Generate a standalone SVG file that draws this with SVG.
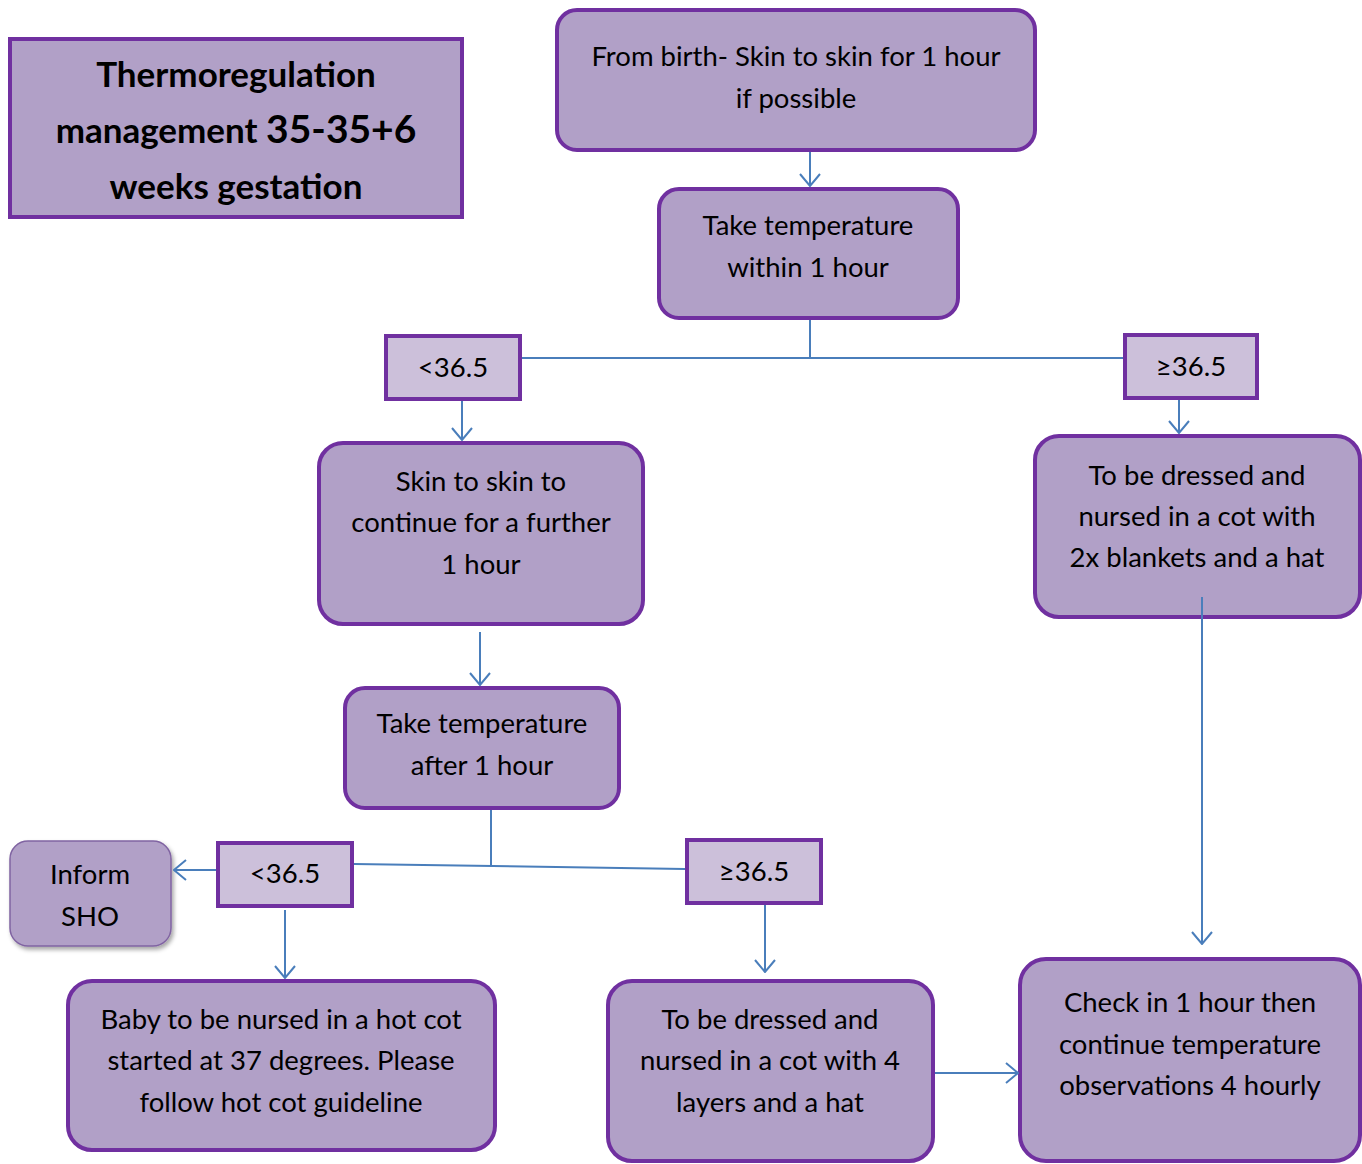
<svg xmlns="http://www.w3.org/2000/svg" width="1362" height="1164" viewBox="0 0 1362 1164">
<defs>
<style>
.box{fill:#B1A0C7;stroke:#7030A0;stroke-width:4}
.lbl{fill:#CCC0DA;stroke:#7030A0;stroke-width:4}
.t{font-family:Lato,"Liberation Sans",sans-serif;font-size:27.5px;fill:#000;text-anchor:middle}
.title{font-family:Lato,"Liberation Sans",sans-serif;font-size:35px;font-weight:bold;fill:#000;text-anchor:middle}
.c{fill:none;stroke:#4A7EBB;stroke-width:2}
</style>
<marker id="ah" markerWidth="14" markerHeight="22" refX="13" refY="11" orient="auto" markerUnits="userSpaceOnUse">
<path d="M1,1 L13,11 L1,21" fill="none" stroke="#4A7EBB" stroke-width="2"/>
</marker>
<filter id="sh" x="-10%" y="-10%" width="130%" height="130%">
<feDropShadow dx="2" dy="3" stdDeviation="2" flood-color="#000" flood-opacity="0.35"/>
</filter>
</defs>
<rect width="1362" height="1164" fill="#fff"/>

<g id="title">
<rect x="10" y="39" width="452" height="178" class="box"/>
<text class="title" x="236" y="87">Thermoregulation</text>
<text class="title" x="236" y="143">management <tspan font-size="39">35-35+6</tspan></text>
<text class="title" x="236" y="199">weeks gestation</text>
</g>

<g id="n1">
<rect x="557" y="10" width="478" height="140" rx="20" class="box"/>
<text class="t" x="796" y="66">From birth- Skin to skin for 1 hour</text>
<text class="t" x="796" y="108">if possible</text>
</g>

<g id="n2">
<rect x="659" y="189" width="299" height="129" rx="20" class="box"/>
<text class="t" x="808" y="235">Take temperature</text>
<text class="t" x="808" y="277">within 1 hour</text>
</g>

<g id="l1">
<rect x="386" y="336" width="134" height="63" class="lbl"/>
<text class="t" x="453" y="377">&lt;36.5</text>
</g>

<g id="l2">
<rect x="1125" y="335" width="132" height="63" class="lbl"/>
<text class="t" x="1191" y="376">≥36.5</text>
</g>

<g id="n3">
<rect x="319" y="443" width="324" height="181" rx="24" class="box"/>
<text class="t" x="481" y="491">Skin to skin to</text>
<text class="t" x="481" y="532">continue for a further</text>
<text class="t" x="481" y="574">1 hour</text>
</g>

<g id="n4">
<rect x="1035" y="436" width="325" height="181" rx="24" class="box"/>
<text class="t" x="1197" y="485">To be dressed and</text>
<text class="t" x="1197" y="526">nursed in a cot with</text>
<text class="t" x="1197" y="567">2x blankets and a hat</text>
</g>

<g id="n5">
<rect x="345" y="688" width="274" height="120" rx="20" class="box"/>
<text class="t" x="482" y="733">Take temperature</text>
<text class="t" x="482" y="775">after 1 hour</text>
</g>

<g id="l3">
<rect x="218" y="843" width="134" height="63" class="lbl"/>
<text class="t" x="285" y="883">&lt;36.5</text>
</g>

<g id="l4">
<rect x="687" y="840" width="134" height="63" class="lbl"/>
<text class="t" x="754" y="881">≥36.5</text>
</g>

<g id="inform">
<rect x="10" y="841" width="161" height="105" rx="18" fill="#B1A0C7" stroke="#8064A2" stroke-width="1.5" filter="url(#sh)"/>
<text class="t" x="90" y="884">Inform</text>
<text class="t" x="90" y="926">SHO</text>
</g>

<g id="n6">
<rect x="68" y="981" width="427" height="169" rx="24" class="box"/>
<text class="t" x="281" y="1029">Baby to be nursed in a hot cot</text>
<text class="t" x="281" y="1070">started at 37 degrees. Please</text>
<text class="t" x="281" y="1112">follow hot cot guideline</text>
</g>

<g id="n7">
<rect x="608" y="981" width="325" height="180" rx="24" class="box"/>
<text class="t" x="770" y="1029">To be dressed and</text>
<text class="t" x="770" y="1070">nursed in a cot with 4</text>
<text class="t" x="770" y="1112">layers and a hat</text>
</g>

<g id="n8">
<rect x="1020" y="959" width="340" height="202" rx="26" class="box"/>
<text class="t" x="1190" y="1012">Check in 1 hour then</text>
<text class="t" x="1190" y="1054">continue temperature</text>
<text class="t" x="1190" y="1095">observations 4 hourly</text>
</g>

<g id="connectors">
<path class="c" d="M810,152 V186" marker-end="url(#ah)"/>
<path class="c" d="M810,320 V358 M522,358 H1123"/>
<path class="c" d="M462,401 V440" marker-end="url(#ah)"/>
<path class="c" d="M1179,400 V433" marker-end="url(#ah)"/>
<path class="c" d="M480,632 V685" marker-end="url(#ah)"/>
<path class="c" d="M491,810 V866 M354,864 L685,869"/>
<path class="c" d="M216,870 H174" marker-end="url(#ah)"/>
<path class="c" d="M285,910 V978" marker-end="url(#ah)"/>
<path class="c" d="M765,905 V972" marker-end="url(#ah)"/>
<path class="c" d="M935,1073 H1018" marker-end="url(#ah)"/>
<path class="c" d="M1202,597 V944" marker-end="url(#ah)"/>
</g>
</svg>
